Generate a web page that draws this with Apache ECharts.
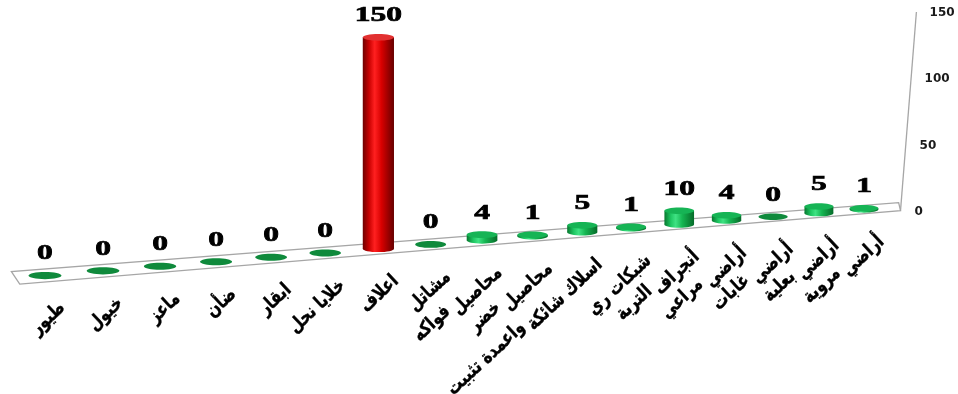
<!DOCTYPE html>
<html>
<head>
<meta charset="utf-8">
<script src="https://cdn.jsdelivr.net/npm/echarts@6/dist/echarts.min.js"></script>
<style>
  html, body { margin: 0; padding: 0; background: #ffffff; }
  #chart { width: 958px; height: 394px; }
</style>
</head>
<body>
<div id="chart"></div>
<script>
// Categories along the floor, left to right ("\n" marks a wrapped label)
const categories = [
  'طيور', 'خيول', 'ماعز', 'ضأن', 'ابقار', 'خلايا نحل', 'اعلاف', 'مشاتل',
  'محاصيل\nفواكه', 'محاصيل\nخضر', 'اسلاك شائكة\nواعمدة تثبيت', 'شبكات ري',
  'أنجراف\nالتربة', 'أراضي\nمراعي', 'أراضي\nغابات', 'أراضي\nبعلية', 'أراضي\nمروية'
];
// Count per category
const counts = [0, 0, 0, 0, 0, 0, 150, 0, 4, 1, 5, 1, 10, 4, 0, 5, 1];
// Value axis ticks
const valueTicks = [0, 50, 100, 150];

const N = categories.length;
const maxCount = Math.max(...counts);

const LABEL_FONT = 'bold 19px "DejaVu Sans"';
const LABEL_SQUEEZE = 0.8;
const LABEL_ANGLE = 43 * Math.PI / 180;
const measureCtx = document.createElement('canvas').getContext('2d');
measureCtx.font = LABEL_FONT;

// --- perspective helpers -------------------------------------------------
// The floor recedes to the right: near end is larger than the far end.
const NEAR_FAR = 0.874;
function persp(t) { return t / (t + NEAR_FAR * (1 - t)); }

function frame(api) {
  const a = api.coord([0, 0]);
  const b = api.coord([N - 1, 0]);
  return { x0: a[0], x1: b[0], yZero: a[1] };
}

// idx: category position (may be fractional), value: data value,
// depth: -1 back edge of the floor, 0 middle, +1 front edge
function project(api, fr, idx, value, depth) {
  const t = idx / (N - 1);
  const f = persp(t);
  const x = fr.x0 + (fr.x1 - fr.x0) * f;
  const half = 6.2 - 2.1 * f;
  const cy = fr.yZero - 2.5 + 0.0806 * (fr.x1 - x);
  const hpx = fr.yZero - api.coord([0, value])[1];
  const hs = 1.1 - 0.1 * f;
  return {
    x: x + depth * half * (0.65 - 0.4 * f),
    y: cy + depth * half - hpx * hs,
    f: f
  };
}

function grad(stops) {
  return {
    type: 'linear', x: 0, y: 0, x2: 1, y2: 0,
    colorStops: stops.map(s => ({ offset: s[0], color: s[1] }))
  };
}

const greenSide = [[0, '#07782f'], [0.22, '#1fc863'], [0.38, '#3fe283'], [0.6, '#15b652'], [1, '#066b29']];
const redSide = [[0, '#6e0000'], [0.2, '#c80000'], [0.38, '#ff2020'], [0.6, '#d80000'], [1, '#660000']];
const palette = {
  green: { side: greenSide, top: '#16b455', flat: '#0f8a3c' },
  red: { side: redSide, top: '#e23030', flat: '#c00000' }
};

// --- floor and value-axis edge ------------------------------------------
function renderFloor(params, api) {
  const fr = frame(api);
  const bl = project(api, fr, -0.5, 0, -1);
  const fl = project(api, fr, -0.5, 0, 1);
  const frt = project(api, fr, N - 0.2, 0, 1);
  const brt = project(api, fr, N - 0.2, 0, -1);
  const topAxis = project(api, fr, N - 0.2, valueTicks[valueTicks.length - 1], 1);
  const lean = 0.08 * (frt.y - topAxis.y);
  return {
    type: 'group',
    children: [
      {
        type: 'polygon',
        shape: { points: [[bl.x, bl.y], [fl.x, fl.y], [frt.x, frt.y], [brt.x, brt.y]] },
        style: { fill: '#ffffff', stroke: '#a6a6a6', lineWidth: 1.3 }
      },
      {
        type: 'line',
        shape: { x1: frt.x, y1: frt.y, x2: topAxis.x + lean, y2: topAxis.y },
        style: { stroke: '#a6a6a6', lineWidth: 1.3 }
      }
    ]
  };
}

// Rotated category label; a wrapped second line continues where the first ends
function categoryLabel(text, ax, ay) {
  const lines = text.split('\n');
  const cos = Math.cos(LABEL_ANGLE), sin = Math.sin(LABEL_ANGLE);
  const out = [];
  let px = ax, py = ay;
  lines.forEach(line => {
    out.push({
      type: 'text',
      x: px, y: py,
      rotation: LABEL_ANGLE,
      scaleX: LABEL_SQUEEZE,
      style: {
        text: line, x: 0, y: 0,
        align: 'right', verticalAlign: 'top',
        font: LABEL_FONT, fill: '#000000',
        stroke: '#000000', lineWidth: 0.4
      }
    });
    const w = (measureCtx.measureText(line).width + 5) * LABEL_SQUEEZE;
    px = px - w * cos - 7 * sin;
    py = py + w * sin - 7 * cos;
  });
  return out;
}

// --- cylinders, value labels and category labels --------------------------
function renderBar(params, api) {
  const i = api.value(0);
  const v = api.value(1);
  const fr = frame(api);
  const base = project(api, fr, i, 0, 0);
  const top = project(api, fr, i, v, 0);
  const band = (fr.x1 - fr.x0) / (N - 1);
  const s = 1.15 - 0.15 * base.f;
  const w = band * 0.56 * s;
  const rx = w / 2;
  const ry = w * 0.11;
  const pal = v === maxCount ? palette.red : palette.green;
  const children = [];

  if (v > 0) {
    children.push({
      type: 'ellipse',
      shape: { cx: base.x, cy: base.y, rx: rx, ry: ry },
      style: { fill: grad(pal.side) }
    });
    children.push({
      type: 'rect',
      shape: { x: base.x - rx, y: top.y, width: w, height: base.y - top.y },
      style: { fill: grad(pal.side) }
    });
    children.push({
      type: 'ellipse',
      shape: { cx: top.x, cy: top.y, rx: rx, ry: ry },
      style: { fill: pal.top }
    });
  } else {
    children.push({
      type: 'ellipse',
      shape: { cx: base.x, cy: base.y, rx: rx, ry: ry },
      style: { fill: pal.flat }
    });
  }

  children.push({
    type: 'text',
    x: top.x,
    y: top.y - 11,
    scaleX: 1.5,
    style: {
      text: String(v), x: 0, y: 0,
      align: 'center', verticalAlign: 'bottom',
      font: 'bold 21px "Liberation Serif"', fill: '#000000',
      stroke: '#000000', lineWidth: 0.7
    }
  });

  categoryLabel(categories[i], base.x + 11, base.y + 23).forEach(c => children.push(c));

  return { type: 'group', children: children };
}

const chart = echarts.init(document.getElementById('chart'), null, { renderer: 'canvas' });

const richPads = {};
valueTicks.forEach(t => {
  richPads['v' + t] = {
    padding: [0, 0, 0, Math.round(t / valueTicks[valueTicks.length - 1] * 15)],
    fontFamily: 'DejaVu Sans', fontWeight: 'bold', fontSize: 12, color: '#1a1a1a'
  };
});

chart.setOption({
  animation: false,
  backgroundColor: '#ffffff',
  grid: { left: 19.4, right: 68.4, top: 12.5, bottom: 182 },
  xAxis: {
    type: 'category',
    data: categories,
    show: false
  },
  yAxis: {
    type: 'value',
    position: 'right',
    min: 0,
    max: 150,
    interval: 50,
    axisLine: { show: false },
    axisTick: { show: false },
    splitLine: { show: false },
    axisLabel: {
      margin: 25,
      fontWeight: 'bold',
      formatter: v => '{v' + v + '|' + v + '}',
      rich: richPads
    }
  },
  series: [
    {
      type: 'custom',
      z: 1,
      data: [[0, 0]],
      renderItem: renderFloor,
      silent: true
    },
    {
      type: 'custom',
      z: 2,
      data: counts.map((c, i) => [i, c]),
      renderItem: renderBar,
      silent: true
    }
  ]
});
</script>
</body>
</html>
